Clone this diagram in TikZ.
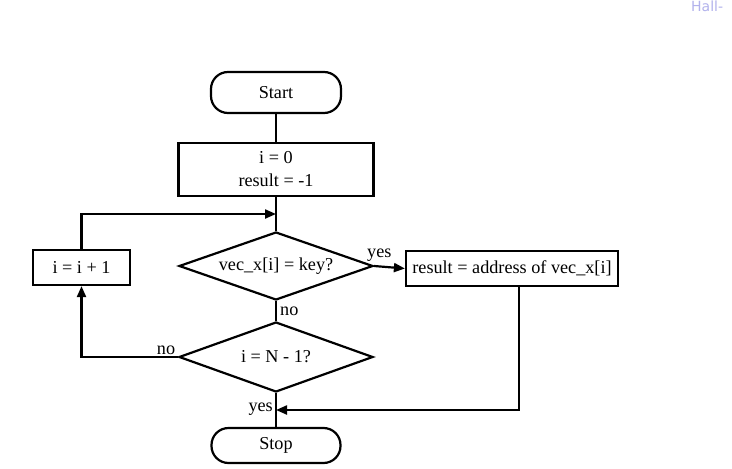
\documentclass[tikz,border=0pt]{standalone}
\usepackage{fontspec}
\setmainfont{Liberation Serif}
\newfontfamily\wmfont{DejaVu Sans}
\usetikzlibrary{shapes.geometric,arrows.meta}
\begin{document}
\begin{tikzpicture}[x=1pt,y=-1pt,
  every node/.style={font=\fontsize{18.2}{21}\selectfont},
  line/.style={line width=2.2pt},
  arr/.style={line width=2.2pt,-{Triangle[length=11pt,width=9pt]}},
  term/.style={draw,line width=2.2pt,rounded corners=17pt,inner sep=0pt},
  proc/.style={draw,line width=2.2pt,inner sep=0pt},
  dec/.style={draw,line width=2.2pt,diamond,aspect=2.85,inner sep=0pt},
  lbl/.style={font=\fontsize{18.2}{21}\selectfont,inner sep=1pt}]
\useasboundingbox (0,0) rectangle (732,469);
\fill[white] (0,0) rectangle (732,469);
\node[font=\wmfont\fontsize{14}{17}\selectfont,text=black!25!blue!30!white,anchor=north west,inner sep=0pt] (wm) at (691,0.5) {Hall-};

\node[term,minimum width=130pt,minimum height=41pt] (start) at (276,92.5) {Start};
\node[proc,minimum width=195pt,minimum height=53pt,align=center] (init) at (276,169.5) {i = 0\\[2pt]result = -1};
\node[dec,minimum width=194pt,minimum height=68pt] (d1) at (276,266) {};
\node (d1t) at (276,266) {vec\_x[i] = key?};
\node[proc,minimum width=97pt,minimum height=35pt] (inc) at (81.5,267.5) {i = i + 1};
\node[proc,minimum width=212pt,minimum height=35pt] (res) at (512,268.5) {result = address of vec\_x[i]};
\node[dec,minimum width=194pt,minimum height=70pt] (d2) at (276,357) {};
\node (d2t) at (276,357) {i = N - 1?};
\node[term,minimum width=129pt,minimum height=35pt] (stop) at (276,445.5) {Stop};

\coordinate (loopin) at (276,214);
\coordinate (loopc) at (81.5,214);
\coordinate (nocorner) at (81.5,357);
\coordinate (yesin) at (276,410);
\coordinate (rescorner) at (519,410);

\draw[line] (start.south) -- (init.north);
\draw[line] (init.south) -- (d1.north);
\draw[arr] (inc.north) -- (loopc) -- (loopin);
\draw[arr] (d1.east) -- (res.west);
\node[lbl,anchor=south west] (yes1) at (366,263) {yes};
\draw[line] (d1.south) -- (d2.north);
\node[lbl,anchor=west] (no1) at (279,311) {no};
\draw[arr] (d2.west) -- (nocorner) -- (inc.south);
\node[lbl,anchor=south] (no2) at (166,356) {no};
\draw[line] (d2.south) -- (stop.north);
\node[lbl,anchor=east] (yes2) at (274,409) {yes};
\draw[arr] (res.south -| rescorner) -- (rescorner) -- (yesin);
\end{tikzpicture}
\end{document}
